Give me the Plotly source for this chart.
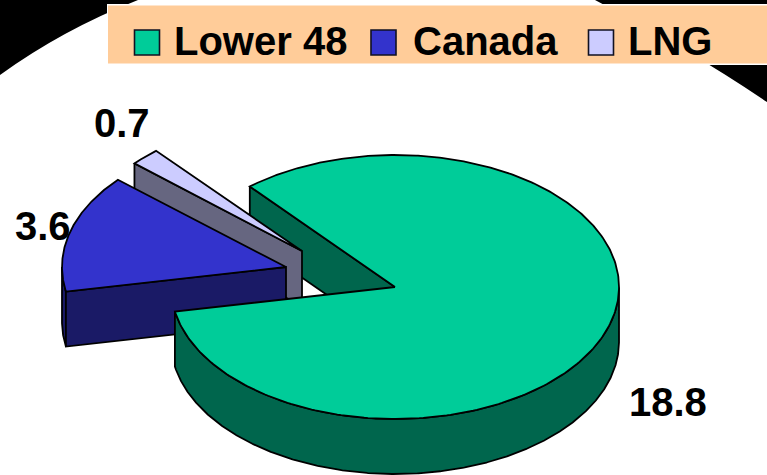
import numpy as np
import plotly.graph_objects as go

# ---- data ----
categories = ["Lower 48", "Canada", "LNG"]
values = [18.8, 3.6, 0.7]
value_labels = ["18.8", "3.6", "0.7"]
colors = ["#00CC99", "#3333CC", "#CCCCFF"]
wall_colors = ["#00664D", "#1A1A66", "#666680"]

# ---- pie presentation ----
W, H = 767, 475
RX, RY, DEPTH = 224, 132, 55
centers = {"Lower 48": (395, 287), "Canada": (286, 267), "LNG": (302, 251)}
START = 144.6          # angle where the LNG slice begins
WARP = 21.9            # perspective compression of the chart's rotation
WARP_AT = 104.2
FONT = "Liberation Sans, Arial, sans-serif"
FONT_SIZE = 40
LINE = 1.8

total = sum(values)
sweep = {c: v / total * 360 for c, v in zip(categories, values)}
a_lng = START
a_can = a_lng + sweep["LNG"]
a_low = a_can + sweep["Canada"]
spans = {"LNG": (a_lng, a_can), "Canada": (a_can, a_low), "Lower 48": (a_low, START + 360)}
col = dict(zip(categories, colors))
wall = dict(zip(categories, wall_colors))


def warp(t):
    return t - WARP * np.sin(np.radians(t - WARP_AT))


def pt(cat, t, dz=0):
    cx, cy = centers[cat]
    r = np.radians(warp(np.asarray(t, float)))
    return cx + RX * np.cos(r), cy - RY * np.sin(r) + dz


def poly(fig, xs, ys, fill):
    fig.add_trace(go.Scatter(x=list(xs), y=list(ys), mode="lines", fill="toself",
                             fillcolor=fill, line=dict(color="black", width=LINE),
                             hoverinfo="skip", showlegend=False))


def side_wall(fig, cat, t):
    cx, cy = centers[cat]
    x, y = pt(cat, t)
    poly(fig, [x, cx, cx, x, x], [y, cy, cy + DEPTH, y + DEPTH, y], wall[cat])


def outer_wall(fig, cat):
    a, b = spans[cat]
    tt = np.linspace(a, b, 1500)
    dd = warp(tt)
    tt = tt[(dd >= 180) & (dd <= 360)]
    if len(tt) < 2:
        return
    x1, y1 = pt(cat, tt)
    x2, y2 = pt(cat, tt[::-1], DEPTH)
    poly(fig, np.r_[x1, x2, x1[0]], np.r_[y1, y2, y1[0]], wall[cat])


def top(fig, cat):
    a, b = spans[cat]
    tt = np.linspace(a, b, 400)
    x, y = pt(cat, tt)
    cx, cy = centers[cat]
    poly(fig, np.r_[cx, x, cx], np.r_[cy, y, cy], col[cat])


fig = go.Figure()

# back inner wall of the largest slice sits behind the exploded slices
side_wall(fig, "Lower 48", spans["Lower 48"][1])
# LNG
side_wall(fig, "LNG", spans["LNG"][1])
top(fig, "LNG")
# Canada
outer_wall(fig, "Canada")
side_wall(fig, "Canada", spans["Canada"][1])
top(fig, "Canada")
# Lower 48
outer_wall(fig, "Lower 48")
top(fig, "Lower 48")

# ---- backdrop and legend band ----
shapes = [
    dict(type="path", path="M0,0 L138,0 Q62,30 0,75 Z", fillcolor="black", line_width=0, layer="below"),
    dict(type="path", path="M595,0 Q690,50 767,102 L767,0 Z", fillcolor="black", line_width=0, layer="below"),
    dict(type="rect", x0=107, y0=4, x1=767, y1=65, fillcolor="white", line_width=0, layer="below"),
    dict(type="rect", x0=108, y0=5.5, x1=767, y1=63.5, fillcolor="#FFCC99", line_width=0, layer="below"),
]
swatch_x = {"Lower 48": 134.5, "Canada": 371, "LNG": 588.5}
text_x = {"Lower 48": 174, "Canada": 413, "LNG": 628}
annotations = []
for c in categories:
    sx = swatch_x[c]
    shapes.append(dict(type="rect", x0=sx, x1=sx + 25, y0=30, y1=55, fillcolor=col[c],
                       line=dict(color="#111122", width=1.6)))
    annotations.append(dict(x=text_x[c], y=41, text=c, xanchor="left", yanchor="middle",
                            showarrow=False, font=dict(family=FONT, size=FONT_SIZE, color="black", weight=700)))

label_pos = {"18.8": (668, 402), "3.6": (42.5, 226), "0.7": (121.5, 123)}
for t in value_labels:
    x, y = label_pos[t]
    annotations.append(dict(x=x, y=y, text=t, xanchor="center", yanchor="middle",
                            showarrow=False, font=dict(family=FONT, size=FONT_SIZE, color="black", weight=700)))

fig.update_layout(
    width=W, height=H, margin=dict(l=0, r=0, t=0, b=0),
    paper_bgcolor="white", plot_bgcolor="white", showlegend=False,
    xaxis=dict(range=[0, W], visible=False, fixedrange=True),
    yaxis=dict(range=[H, 0], visible=False, fixedrange=True),
    shapes=shapes, annotations=annotations,
)
for a in fig.layout.annotations:
    a.update(borderpad=0, borderwidth=0)

fig.write_html("out.html", config={"displayModeBar": False},
               post_script="document.body.style.margin='0';document.body.style.overflow='hidden';")
